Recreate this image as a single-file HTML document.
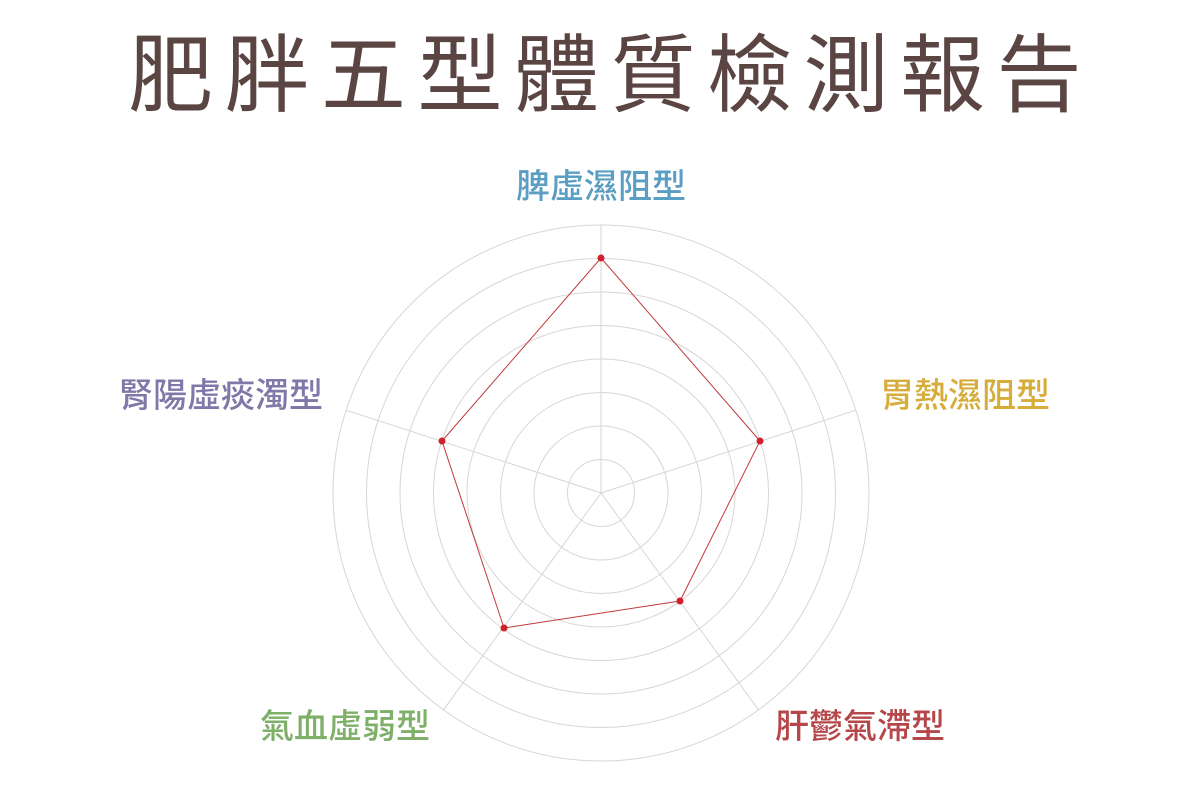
<!DOCTYPE html>
<html><head><meta charset="utf-8"><style>
html,body{margin:0;padding:0;background:#fff;}
body{width:1200px;height:800px;position:relative;overflow:hidden;font-family:"Liberation Sans","Noto Sans CJK TC",sans-serif;}
.t{position:absolute;white-space:nowrap;line-height:1;}
</style></head><body>
<div class="t" style="left:128px;top:34px;font-size:85px;letter-spacing:11.5px;color:#5a4543;font-weight:400;">肥胖五型體質檢測報告</div>
<div class="t" style="left:516px;top:170px;font-size:34px;color:#5b9ec4;font-weight:500;">脾虛濕阻型</div>
<div class="t" style="left:880px;top:379px;font-size:34px;color:#d6ad3a;font-weight:500;">胃熱濕阻型</div>
<div class="t" style="left:119px;top:379px;font-size:34px;color:#7f78a8;font-weight:500;">腎陽虛痰濁型</div>
<div class="t" style="left:775px;top:710px;font-size:34px;color:#b5474a;font-weight:500;">肝鬱氣滯型</div>
<div class="t" style="left:260px;top:710px;font-size:34px;color:#7fb069;font-weight:500;">氣血虛弱型</div>
<svg width="1200" height="800" style="position:absolute;left:0;top:0">
<g fill="none" stroke="#d6d6d6" stroke-width="1">
<circle cx="601" cy="493" r="33.5"/><circle cx="601" cy="493" r="67"/><circle cx="601" cy="493" r="100.5"/><circle cx="601" cy="493" r="134"/>
<circle cx="601" cy="493" r="167.5"/><circle cx="601" cy="493" r="201"/><circle cx="601" cy="493" r="234.5"/><circle cx="601" cy="493" r="268"/>
<line x1="601" y1="493" x2="601" y2="225"/>
<line x1="601" y1="493" x2="855.9" y2="410.2"/>
<line x1="601" y1="493" x2="758.5" y2="709.8"/>
<line x1="601" y1="493" x2="443.5" y2="709.8"/>
<line x1="601" y1="493" x2="346.1" y2="410.2"/>
</g>
<polygon points="601,258 760,441 680,601 504,628 442,441" fill="none" stroke="#c0393b" stroke-width="1"/>
<g fill="#d0202a">
<circle cx="601" cy="258" r="3.5"/><circle cx="760" cy="441" r="3.5"/><circle cx="680" cy="601" r="3.5"/><circle cx="504" cy="628" r="3.5"/><circle cx="442" cy="441" r="3.5"/>
</g>
</svg>
</body></html>
